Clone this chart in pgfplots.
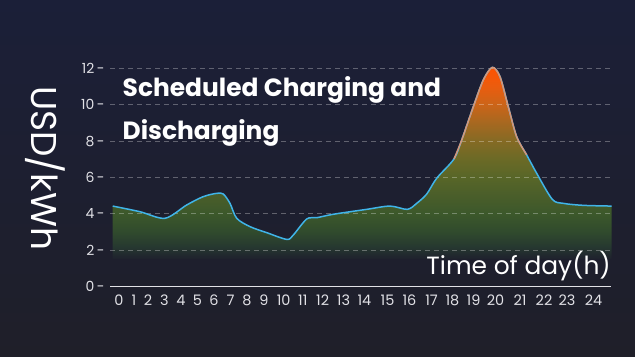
\documentclass[border=0pt]{standalone}
\usepackage{pgfplots}
\usepackage{pgfplotstable}
\pgfplotsset{compat=1.18}
\usepackage{fontspec}
\setmainfont{Poppins}
\definecolor{bgtop}{RGB}{27,31,56}
\definecolor{bgbot}{RGB}{31,31,41}
\definecolor{linec}{RGB}{64,180,232}
\definecolor{hotline}{RGB}{212,150,122}
\definecolor{axisc}{RGB}{225,225,230}
\definecolor{tickc}{RGB}{225,225,230}
\definecolor{s0}{RGB}{30,32,45}
\definecolor{s1}{RGB}{38,56,48}
\definecolor{s2}{RGB}{48,74,45}
\definecolor{s3}{RGB}{60,88,43}
\definecolor{s4}{RGB}{74,94,42}
\definecolor{s5}{RGB}{88,102,40}
\definecolor{s6}{RGB}{108,106,38}
\definecolor{s7}{RGB}{134,106,36}
\definecolor{s8}{RGB}{168,104,32}
\definecolor{s9}{RGB}{205,100,24}
\definecolor{s10}{RGB}{236,92,14}
\definecolor{s11}{RGB}{255,82,0}
\pgfdeclareverticalshading{areashade}{100bp}{color(0bp)=(s0); color(25bp)=(s0); color(28.3bp)=(s1); color(32.1bp)=(s2); color(36.9bp)=(s3); color(41.7bp)=(s4); color(46.4bp)=(s5); color(51.2bp)=(s6); color(56bp)=(s7); color(60.7bp)=(s8); color(65.5bp)=(s9); color(70.2bp)=(s10); color(75bp)=(s11); color(100bp)=(s11)}
\pgfplotstableread{
x y
112.7 4.43
140 4.12
165 3.76
186.7 4.49
203.3 4.95
216.7 5.13
223.3 5.09
230 4.58
236.7 3.76
250 3.30
266.7 2.97
286.7 2.60
293.3 2.84
306.7 3.72
316.7 3.79
333.3 3.98
366.7 4.25
390 4.43
407.3 4.25
416.7 4.58
426.7 5.09
436.7 5.96
454 7.02
461.7 8.06
473.3 9.89
483.3 11.36
492.3 12.05
500 11.54
508.3 9.89
516.7 8.24
526.7 7.24
536.7 6.23
552.3 4.80
563.3 4.58
583.3 4.47
611.7 4.43
}\linedata
\pgfplotstableread{
x y
454 7.02
461.7 8.06
473.3 9.89
483.3 11.36
492.3 12.05
500 11.54
508.3 9.89
516.7 8.24
526.7 7.24
}\hotdata
\begin{document}
\begin{tikzpicture}
\useasboundingbox (0,0) rectangle (635bp,357bp);
\shade[top color=bgtop, bottom color=bgbot] (0,0) rectangle (635bp,357bp);
\begin{axis}[
  at={(110bp,70.3bp)}, anchor=south west,
  scale only axis, width=501bp, height=227.5bp,
  xmin=110, xmax=611, ymin=0, ymax=12.5,
  clip=false,
  axis lines*=left,
  y axis line style={draw=none},
  x axis line style={draw=axisc, line width=1.3bp},
  major tick length=0pt,
  /pgf/number format/assume math mode=true,
  ytick={0,2,4,6,8,10,12},
  yticklabel={\pgfmathprintnumber{\tick}\,-},
  yticklabel style={font=\fontsize{14}{16}\selectfont, text=tickc, anchor=east, xshift=-2bp},
  xtick={119,134,148,164.5,181,197.5,214,230.5,247,264,283.7,302.8,322.6,343.5,364.4,387.5,409.5,431.5,452.4,473.6,495.6,520,544,567,593.6},
  xticklabels={0,1,2,3,4,5,6,7,8,9,10,11,12,13,14,15,16,17,18,19,20,21,22,23,24},
  xticklabel style={font=\fontsize{14.5}{16}\selectfont, text=tickc, anchor=north, yshift=-5bp},
]
\addplot[draw=none, shade, shading=areashade, smooth] table[x=x,y=y] {\linedata} -- (axis cs:611.7,1.5) -- (axis cs:112.7,1.5) -- cycle;
\addplot[white, opacity=0.3, line width=1bp, dash pattern=on 5bp off 4bp] coordinates {(110,2) (611,2)};
\addplot[white, opacity=0.3, line width=1bp, dash pattern=on 5bp off 4bp] coordinates {(110,4) (611,4)};
\addplot[white, opacity=0.3, line width=1bp, dash pattern=on 5bp off 4bp] coordinates {(110,6) (611,6)};
\addplot[white, opacity=0.3, line width=1bp, dash pattern=on 5bp off 4bp] coordinates {(110,8) (611,8)};
\addplot[white, opacity=0.3, line width=1bp, dash pattern=on 5bp off 4bp] coordinates {(110,10) (611,10)};
\addplot[white, opacity=0.3, line width=1bp, dash pattern=on 5bp off 4bp] coordinates {(110,12) (611,12)};
\addplot[linec, line width=1.5bp, smooth] table[x=x,y=y] {\linedata};
\addplot[hotline, line width=1.5bp, smooth] table[x=x,y=y] {\hotdata};
\end{axis}
\node[anchor=base west, text=white, inner sep=0, font=\bfseries\fontsize{25}{28}\selectfont] at (122.5bp,260.5bp) {Scheduled Charging and};
\node[anchor=base west, text=white, inner sep=0, font=\bfseries\fontsize{25}{28}\selectfont] at (122.5bp,217.5bp) {Discharging};
\node[rotate=-90, anchor=base west, text=white, inner sep=0, font=\fontsize{36}{40}\selectfont] at (31.7bp,271bp) {USD/kWh};
\node[anchor=base east, text=white, inner sep=0, font=\fontsize{25}{28}\selectfont] at (611bp,82bp) {Time of day(h)};
\end{tikzpicture}
\end{document}
